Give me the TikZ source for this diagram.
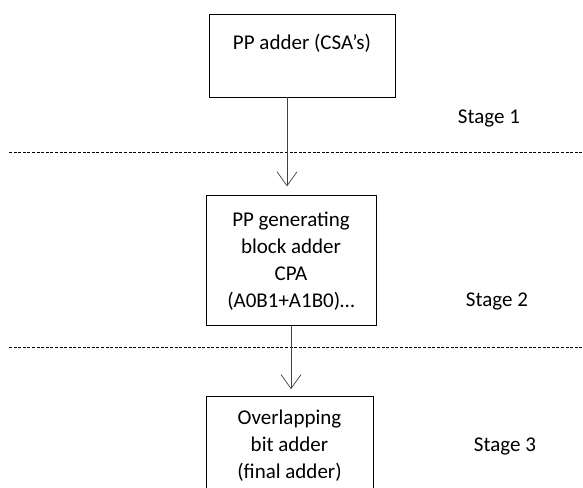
\documentclass[tikz,border=0pt]{standalone}
\usepackage{fontspec}
\setmainfont{Carlito}
\usetikzlibrary{positioning, arrows.meta}

\begin{document}
\begin{tikzpicture}[x=1pt, y=1pt, node distance = 98pt,
        blk/.style={draw, line width=0.8pt, align=center, inner sep=0pt,
                    font=\fontsize{21}{27}\selectfont},
        stagelbl/.style={font=\fontsize{21}{27}\selectfont},
        sep/.style={line width=0.7pt, dash pattern=on 3pt off 1.6pt},
        flow/.style={draw=black!75, line width=0.7pt,
                     -{Straight Barb[length=14pt, width=20pt, line width=0.7pt]}}]
        \useasboundingbox (0,0) rectangle (583,-487);
        % blocks
        \node (pp) [blk, minimum width=186pt, minimum height=83pt] at (302,-55.5)
            {PP adder (CSA’s)\\ \mbox{}};
        \node (gen) [blk, minimum width=170pt, minimum height=130pt,
                     below=of pp, xshift=-11pt]
            {PP generating\\ block adder\\ CPA\\ (A0B1+A1B0)…};
        \node (fin) [blk, minimum width=167pt, minimum height=98pt,
                     below=70pt of gen, xshift=-1.5pt]
            {Overlapping\\ bit adder\\ (final adder)};
        % separators
        \coordinate (s1) at (9,-152);
        \coordinate (s2) at (9,-347);
        \foreach \s in {s1, s2}
            \draw[sep] (\s) -- (\s -| 583,0);
        % stages
        \node (st1) [stagelbl] at (489,-118) {Stage 1};
        \node (st2) [stagelbl] at (497,-301) {Stage 2};
        \node (st3) [stagelbl] at (505,-446) {Stage 3};
        % arrows
        \draw[flow, shorten >=9pt] ([xshift=-4pt]pp.south -| gen.north) -- ([xshift=-4pt]gen.north);
        \draw[flow, shorten >=7pt] (gen.south) -- (gen.south |- fin.north);
        %
\end{tikzpicture}
\end{document}
